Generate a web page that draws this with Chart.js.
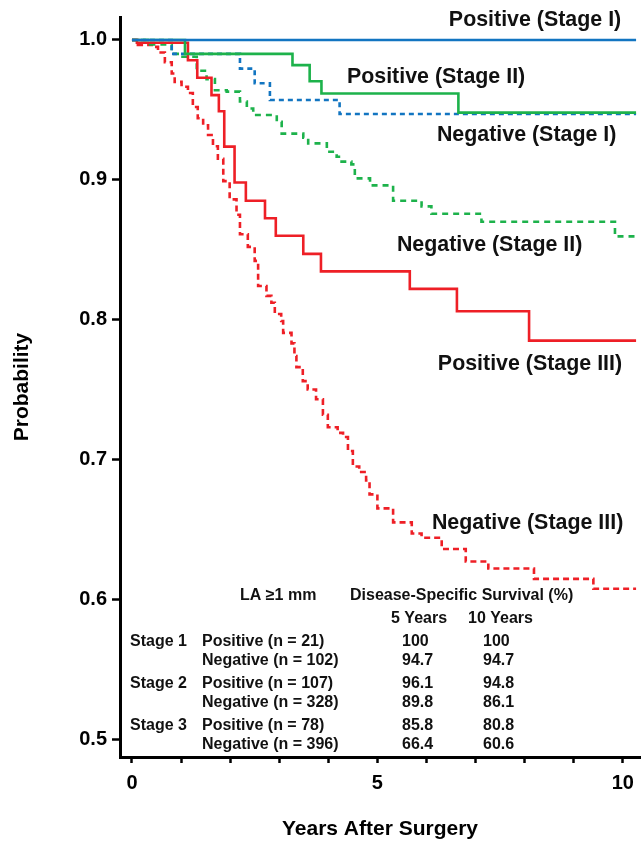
<!DOCTYPE html>
<html><head><meta charset="utf-8">
<script src="https://cdn.jsdelivr.net/npm/chart.js@4.4.0/dist/chart.umd.min.js"></script>
<style>html,body{margin:0;padding:0;background:#fff}#wrap{width:644px;height:845px}</style>
</head><body><div id="wrap"><canvas id="c" width="644" height="845"></canvas></div>
<script>
// ---------- DATA ----------
const seriesNames = ['Positive (Stage I)','Positive (Stage II)','Negative (Stage I)','Negative (Stage II)','Positive (Stage III)','Negative (Stage III)'];

const posI_t = [0, 10.27];
const posI_s = [1.0, 1.0];

const negI_t = [0, 0.81, 2.2, 2.5, 2.81, 4.23, 10.27];
const negI_s = [1.0, 0.990, 0.9795, 0.969, 0.957, 0.947, 0.947];

const posII_t = [0, 1.08, 3.27, 3.62, 3.86, 6.65, 10.27];
const posII_s = [1.0, 0.990, 0.982, 0.9705, 0.9617, 0.948, 0.948];

const negII_t = [0, 0.37, 0.81, 0.98, 1.32, 1.52, 1.69, 1.93, 2.2, 2.34, 2.47, 2.95, 3.05, 3.49, 3.59, 3.97, 4.17, 4.27, 4.47, 4.54, 4.85, 5.32, 5.9, 6.1, 7.12, 9.84, 10.27];
const negII_s = [1.0, 0.9967, 0.990, 0.988, 0.978, 0.972, 0.964, 0.963, 0.956, 0.951, 0.9463, 0.9415, 0.933, 0.930, 0.926, 0.920, 0.9165, 0.913, 0.911, 0.901, 0.896, 0.885, 0.881, 0.8757, 0.870, 0.8595, 0.8595];

const posIII_t = [0, 0.1, 1.14, 1.33, 1.62, 1.77, 1.88, 2.09, 2.32, 2.71, 2.93, 3.49, 3.85, 5.66, 6.62, 8.09, 10.27];
const posIII_s = [1.0, 0.998, 0.9855, 0.973, 0.9605, 0.949, 0.9237, 0.898, 0.885, 0.8725, 0.860, 0.847, 0.8345, 0.822, 0.806, 0.785, 0.785];

const negIII_t = [0, 0.12, 0.43, 0.53, 0.67, 0.81, 0.87, 1.01, 1.14, 1.24, 1.34, 1.45, 1.55, 1.65, 1.75, 1.86, 1.99, 2.13, 2.2, 2.36, 2.5, 2.57, 2.74, 2.84, 2.91, 3.04, 3.08, 3.25, 3.31, 3.35, 3.48, 3.58, 3.75, 3.89, 3.99, 4.19, 4.30, 4.40, 4.50, 4.63, 4.77, 4.84, 5.0, 5.32, 5.70, 5.9, 6.31, 6.80, 7.26, 8.19, 9.40, 10.27];
const negIII_s = [1.0, 0.9965, 0.995, 0.991, 0.984, 0.976, 0.970, 0.9665, 0.962, 0.952, 0.944, 0.939, 0.932, 0.924, 0.915, 0.899, 0.886, 0.875, 0.861, 0.852, 0.842, 0.824, 0.817, 0.812, 0.804, 0.799, 0.7905, 0.783, 0.774, 0.766, 0.756, 0.750, 0.743, 0.732, 0.723, 0.719, 0.716, 0.706, 0.695, 0.691, 0.685, 0.675, 0.665, 0.655, 0.647, 0.644, 0.636, 0.627, 0.622, 0.6146, 0.6075, 0.6075];

const xTickValues = [0,1,2,3,4,5,6,7,8,9,10];
const xTickLabels = [0,5,10];
const yTickValues = [0.5,0.6,0.7,0.8,0.9,1.0];

// table data
const tableStages = ['Stage 1','','Stage 2','','Stage 3',''];
const tableGroups = ['Positive (n = 21)','Negative (n = 102)','Positive (n = 107)','Negative (n = 328)','Positive (n = 78)','Negative (n = 396)'];
const tableFiveYear = ['100','94.7','96.1','89.8','85.8','66.4'];
const tableTenYear = ['100','94.7','94.8','86.1','80.8','60.6'];

// ---------- STYLE ----------
const FONT = "'Liberation Sans', Arial, Helvetica, sans-serif";
const BLUE = '#1275c1', GREEN = '#1db24b', RED = '#ee1f26';

function pts(t, s){ return t.map((x,i)=>({x:x, y:s[i]})); }

const datasets = [
  {label: seriesNames[0], data: pts(posI_t, posI_s), borderColor: BLUE, borderWidth: 2.6, borderDash: []},
  {label: seriesNames[1], data: pts(posII_t, posII_s), borderColor: GREEN, borderWidth: 2.6, borderDash: []},
  {label: seriesNames[4], data: pts(posIII_t, posIII_s), borderColor: RED, borderWidth: 2.6, borderDash: []},
  {label: seriesNames[2], data: pts(negI_t, negI_s), borderColor: BLUE, borderWidth: 2.6, borderDash: [5,4]},
  {label: seriesNames[3], data: pts(negII_t, negII_s), borderColor: GREEN, borderWidth: 2.6, borderDash: [6,5]},
  {label: seriesNames[5], data: pts(negIII_t, negIII_s), borderColor: RED, borderWidth: 2.6, borderDash: [6,4]}
].map(d => Object.assign(d, {stepped: 'before', pointRadius: 0, fill: false, tension: 0}));

const labelPlugin = {
  id: 'curveLabels',
  afterDraw(chart, args, opts) {
    const ctx = chart.ctx, xs = chart.scales.x, ys = chart.scales.y;
    ctx.save();
    ctx.fillStyle = '#111';
    ctx.textBaseline = 'middle';
    ctx.textAlign = 'left';
    ctx.font = 'bold 21.4px ' + FONT;
    opts.labels.forEach(l => {
      ctx.fillText(l.text, xs.getPixelForValue(l.x), ys.getPixelForValue(l.y));
    });
    // table
    const t = opts.table;
    ctx.font = 'bold 16px ' + FONT;
    ctx.fillText('LA \u22651 mm', t.colLA, t.headY);
    ctx.fillText('Disease-Specific Survival (%)', t.colDSS, t.headY);
    ctx.fillText('5 Years', t.col5h, t.subY);
    ctx.fillText('10 Years', t.col10h, t.subY);
    tableGroups.forEach((g, i) => {
      const y = t.rowY[i];
      if (tableStages[i]) ctx.fillText(tableStages[i], t.colStage, y);
      ctx.fillText(g, t.colGroup, y);
      ctx.fillText(tableFiveYear[i], t.col5, y);
      ctx.fillText(tableTenYear[i], t.col10, y);
    });
    ctx.restore();
  }
};

new Chart(document.getElementById('c'), {
  type: 'line',
  data: {datasets: datasets},
  options: {
    responsive: false,
    animation: false,
    devicePixelRatio: 1,
    layout: {padding: {top: 15, right: 4, left: 0, bottom: 0}},
    plugins: {
      legend: {display: false},
      tooltip: {enabled: false},
      curveLabels: {
        labels: [
          {text: seriesNames[0], x: 6.456, y: 1.0143},
          {text: seriesNames[1], x: 4.379, y: 0.9736},
          {text: seriesNames[2], x: 6.212, y: 0.9322},
          {text: seriesNames[3], x: 5.397, y: 0.853},
          {text: seriesNames[4], x: 6.232, y: 0.7682},
          {text: seriesNames[5], x: 6.11, y: 0.6548}
        ],
        table: {colLA: 240, colDSS: 350, col5h: 391, col10h: 468, colStage: 130, colGroup: 202, col5: 402, col10: 483,
                headY: 596, subY: 619, rowY: [642, 661, 684, 703, 726, 745]}
      }
    },
    scales: {
      x: {
        type: 'linear', min: -0.244, max: 10.35,
        afterBuildTicks: s => { s.ticks = xTickValues.map(v => ({value: v})); },
        afterFit: s => { s.height = 88; },
        ticks: {
          callback: v => xTickLabels.includes(v) ? String(v) : '',
          font: {family: FONT, size: 20, weight: 'bold'}, color: '#000',
          padding: 8, maxRotation: 0, autoSkip: false
        },
        grid: {drawOnChartArea: false, drawTicks: true, tickLength: 6, tickWidth: 2.5, tickColor: '#000'},
        border: {display: true, color: '#000', width: 3},
        title: {display: true, text: 'Years After Surgery', color: '#000',
                font: {family: FONT, size: 21, weight: 'bold'}, padding: {top: 0, bottom: 3}}
      },
      y: {
        type: 'linear', min: 0.4872, max: 1.0164,
        afterBuildTicks: s => { s.ticks = yTickValues.map(v => ({value: v})); },
        afterFit: s => { s.width = 120; },
        ticks: {
          callback: v => Number(v).toFixed(1),
          font: {family: FONT, size: 20, weight: 'bold'}, color: '#000', padding: 5
        },
        grid: {drawOnChartArea: false, drawTicks: true, tickLength: 8, tickWidth: 2.5, tickColor: '#000'},
        border: {display: true, color: '#000', width: 3},
        title: {display: true, text: 'Probability', color: '#000',
                font: {family: FONT, size: 21, weight: 'bold'}, padding: {top: 10, bottom: 0}}
      }
    }
  },
  plugins: [labelPlugin]
});
</script>
</body></html>
